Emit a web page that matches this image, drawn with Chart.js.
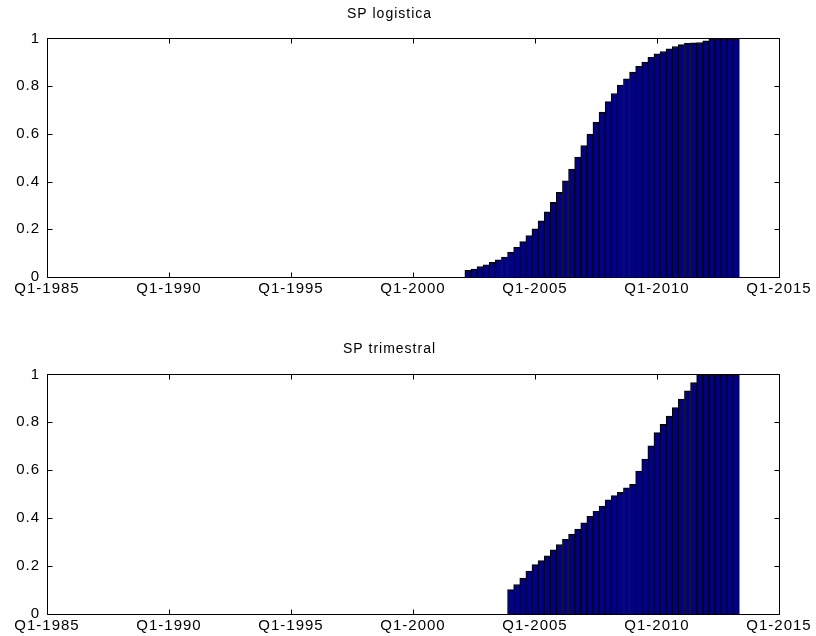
<!DOCTYPE html>
<html lang="es">
<head>
    <meta charset="UTF-8">
    <title>SP logistica / SP trimestral</title>
    <script src="https://cdn.jsdelivr.net/npm/chart.js"></script>
    <style>
        body {
            margin: 0;
            background: #fff;
        }
        .wrap {
            position: relative;
            width: 816px;
            height: 636px;
        }
        canvas {
            position: absolute;
            left: 0;
        }
        #top { top: 0; }
        #bottom { top: 318px; }
    </style>
</head>
<body>
<div class="wrap">
    <canvas id="top" width="816" height="300"></canvas>
    <canvas id="bottom" width="816" height="318"></canvas>
</div>

<script>
    // datos
    const xTickLabels = ['Q1-1985', 'Q1-1990', 'Q1-1995', 'Q1-2000', 'Q1-2005', 'Q1-2010', 'Q1-2015'];
    const yTickLabels = ['0', '0.2', '0.4', '0.6', '0.8', '1'];

    const logisticaStart = 'Q2-2002';
    const logisticaValues = [
        0.028, 0.033, 0.044, 0.051, 0.062, 0.072, 0.083, 0.104, 0.124, 0.148,
        0.174, 0.202, 0.235, 0.273, 0.313, 0.355, 0.403, 0.452, 0.503, 0.551,
        0.599, 0.649, 0.691, 0.735, 0.769, 0.804, 0.831, 0.859, 0.883, 0.901,
        0.921, 0.935, 0.945, 0.956, 0.966, 0.974, 0.979, 0.981, 0.983, 0.990,
        1, 1, 1, 1, 1
    ];

    const trimestralStart = 'Q1-2004';
    const trimestralValues = [
        0.102, 0.123, 0.150, 0.179, 0.206, 0.223, 0.243, 0.268, 0.290, 0.312,
        0.334, 0.354, 0.381, 0.408, 0.428, 0.450, 0.476, 0.494, 0.508, 0.527,
        0.541, 0.596, 0.647, 0.702, 0.757, 0.792, 0.826, 0.861, 0.897, 0.931,
        0.966, 1, 1, 1, 1, 1, 1, 1
    ];

    // 'Q2-2002' -> numero de trimestre desde Q1-1985
    function quarterIndex(label) {
        const q = parseInt(label.charAt(1));
        const year = parseInt(label.split('-')[1]);
        const baseYear = parseInt(xTickLabels[0].split('-')[1]);
        return (year - baseYear) * 4 + (q - 1);
    }

    function toPoints(start, values) {
        const s = quarterIndex(start);
        return values.map((v, i) => ({ x: s + i, y: v }));
    }

    const fontFamily = '"Liberation Sans", Arial, sans-serif';

    // caja completa y marcas hacia dentro (estilo matlab)
    const boxPlugin = {
        id: 'box',
        beforeDraw(chart) {
            chart.ctx.letterSpacing = '1px';
        },
        afterDatasetsDraw(chart) {
            const ctx = chart.ctx;
            const a = chart.chartArea;
            const L = Math.round(a.left) + 0.5, R = Math.round(a.right) + 0.5;
            const T = Math.round(a.top) + 0.5, B = Math.round(a.bottom) + 0.5;
            ctx.save();
            ctx.strokeStyle = '#000';
            ctx.lineWidth = 1;
            ctx.beginPath();
            ctx.rect(L, T, R - L, B - T);
            const xs = chart.scales.x, ys = chart.scales.y;
            const len = 5;
            xs.ticks.forEach(t => {
                const px = Math.round(xs.getPixelForValue(t.value)) + 0.5;
                ctx.moveTo(px, B); ctx.lineTo(px, B - len);
                ctx.moveTo(px, T); ctx.lineTo(px, T + len);
            });
            ys.ticks.forEach(t => {
                const py = Math.round(ys.getPixelForValue(t.value)) + 0.5;
                ctx.moveTo(L, py); ctx.lineTo(L + len, py);
                ctx.moveTo(R, py); ctx.lineTo(R - len, py);
            });
            ctx.stroke();
            ctx.restore();
        }
    };

    function makeChart(id, title, start, values, titlePad, bottomPad) {
        const ctx = document.getElementById(id).getContext('2d');
        return new Chart(ctx, {
            type: 'bar',
            data: {
                datasets: [{
                    label: title,
                    data: toPoints(start, values),
                    backgroundColor: '#00008a',
                    borderColor: '#000',
                    borderWidth: 1,
                    borderSkipped: 'bottom',
                    barPercentage: 1,
                    categoryPercentage: 1
                }]
            },
            options: {
                responsive: false,
                animation: false,
                devicePixelRatio: 1,
                layout: {
                    padding: { left: 0, right: 37, top: 0, bottom: bottomPad }
                },
                plugins: {
                    legend: { display: false },
                    tooltip: { enabled: false },
                    title: {
                        display: true,
                        text: title,
                        color: '#000',
                        font: { family: fontFamily, size: 14, weight: 'normal', lineHeight: 1.2 },
                        padding: titlePad
                    }
                },
                scales: {
                    x: {
                        type: 'linear',
                        offset: false,
                        min: 0,
                        max: (xTickLabels.length - 1) * 20,
                        grid: { display: false, drawTicks: false, offset: false },
                        border: { display: false },
                        ticks: {
                            stepSize: 20,
                            autoSkip: false,
                            maxRotation: 0,
                            padding: 3,
                            color: '#000',
                            font: { family: fontFamily, size: 15 },
                            callback: (v, i) => xTickLabels[i]
                        },
                        afterFit: s => { s.height = 20; }
                    },
                    y: {
                        min: 0,
                        max: 1,
                        grid: { display: false, drawTicks: false },
                        border: { display: false },
                        ticks: {
                            stepSize: 0.2,
                            padding: 7,
                            color: '#000',
                            font: { family: fontFamily, size: 15 },
                            callback: (v, i) => yTickLabels[i]
                        },
                        afterFit: s => { s.width = 47; }
                    }
                }
            },
            plugins: [boxPlugin]
        });
    }

    makeChart('top', 'SP logistica', logisticaStart, logisticaValues, { top: 6, bottom: 15.6 }, 3);
    makeChart('bottom', 'SP trimestral', trimestralStart, trimestralValues, { top: 22.8, bottom: 16.8 }, 2);
</script>
</body>
</html>
